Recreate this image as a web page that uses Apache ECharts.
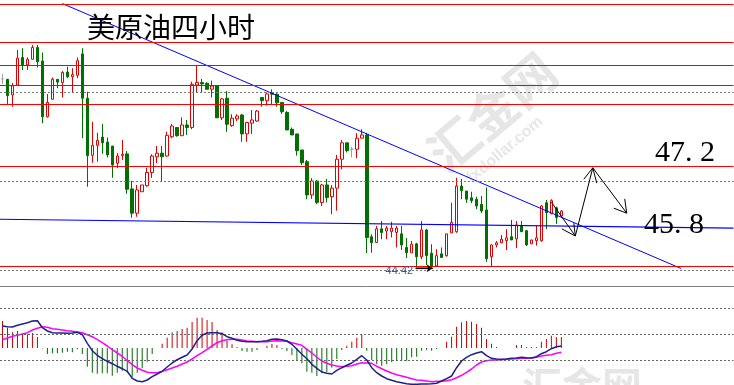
<!DOCTYPE html>
<html>
<head>
<meta charset="utf-8">
<script src="https://cdn.jsdelivr.net/npm/echarts@6/dist/echarts.min.js"></script>
<style>html,body{margin:0;padding:0;background:#fff;}#c{width:734px;height:385px;}</style>
</head>
<body>
<div id="c"></div>
<script>
// ---- candle data (4-hour bars) ----
const openPrices = [49.66,49.65,49.21,49.49,50.26,50.05,50.21,50.54,50.16,48.60,49.09,49.65,49.56,49.85,49.72,49.76,50.36,49.12,47.52,47.80,48.03,47.89,47.78,47.30,47.51,47.56,46.58,45.90,46.50,46.67,47.04,47.48,47.58,47.50,48.04,48.30,48.07,48.37,48.30,49.49,49.56,49.54,49.37,49.47,48.57,49.12,48.35,48.54,48.65,48.12,48.42,48.48,49.14,49.05,49.27,49.23,49.00,48.72,48.25,48.12,47.67,47.34,46.41,46.80,46.20,46.69,46.36,46.60,47.41,47.87,47.69,47.69,48.00,48.09,45.24,45.08,45.46,45.40,45.38,45.36,45.32,44.94,44.79,45.04,44.68,45.43,44.78,44.42,44.76,44.71,45.35,45.38,46.66,46.52,46.33,46.29,46.15,45.99,44.68,45.01,45.07,45.13,45.24,45.18,45.55,45.41,45.04,45.13,45.13,46.19,45.88,46.05,45.82];
const closePrices = [49.66,49.19,49.47,50.24,50.05,50.21,50.54,50.14,48.60,49.00,49.65,49.57,49.84,49.72,49.78,50.17,49.12,47.51,47.80,47.94,47.87,47.53,47.25,47.50,47.55,46.57,45.90,46.55,46.69,47.04,47.50,47.58,47.48,48.08,48.34,48.07,48.37,48.30,49.51,49.56,49.52,49.37,49.46,48.57,49.10,48.39,48.56,48.62,48.12,48.44,48.51,48.76,49.05,49.24,49.23,48.99,48.74,48.23,48.09,47.65,47.31,46.41,46.80,46.20,46.69,46.34,46.60,47.41,47.87,47.65,47.69,48.00,48.09,45.22,45.07,45.46,45.36,45.48,45.48,45.48,45.01,44.79,45.03,44.68,45.43,44.71,44.42,44.71,44.66,45.32,45.64,46.66,46.53,46.29,46.25,46.10,45.96,44.62,45.01,45.07,45.17,45.21,45.15,45.57,45.38,45.01,45.15,45.21,46.10,45.91,46.25,45.78,45.96];
const lowPrices = [49.52,48.96,48.88,49.49,49.91,49.91,50.21,49.98,48.42,48.58,49.09,49.40,49.14,49.68,49.28,49.68,48.00,46.64,47.31,47.34,47.56,47.46,46.89,47.16,47.39,46.44,45.77,45.80,46.50,46.64,46.89,47.30,46.80,47.48,48.00,48.04,48.07,48.09,48.25,49.28,49.28,49.37,49.14,48.57,48.51,48.18,48.32,48.48,47.90,47.90,48.12,48.46,48.88,48.91,48.95,48.88,48.68,48.23,48.09,47.51,47.25,46.29,46.30,46.15,46.10,46.20,45.87,45.97,47.13,47.60,47.46,47.44,48.00,44.78,44.79,45.08,45.17,45.17,45.22,44.94,44.87,44.64,44.79,44.42,44.61,44.45,44.42,44.42,44.66,44.68,45.35,45.35,46.29,46.19,46.18,46.01,45.90,44.54,44.42,44.94,45.06,44.87,45.15,44.92,45.38,44.98,45.04,44.99,45.10,45.45,45.88,45.60,45.80];
const highPrices = [49.80,49.66,49.55,50.47,50.52,50.26,50.61,50.61,50.40,49.24,49.70,49.65,49.88,50.00,49.96,50.26,50.52,49.30,48.46,48.15,48.40,48.02,47.78,47.58,47.95,47.64,46.80,46.69,46.69,47.17,47.55,47.78,47.78,48.18,48.40,48.30,48.58,48.51,49.58,50.02,49.66,49.56,49.61,49.47,49.13,49.32,48.67,48.67,48.68,48.46,48.79,48.79,49.14,49.28,49.37,49.26,49.00,48.76,48.30,48.12,47.67,47.39,46.88,46.83,46.72,46.86,46.69,47.53,47.95,47.87,47.76,48.14,48.25,48.15,45.31,45.54,45.68,45.54,45.66,45.54,45.54,45.20,45.12,45.07,45.68,45.46,45.03,44.89,44.94,45.32,46.19,46.89,46.86,46.52,46.50,46.36,46.38,46.62,45.03,45.12,45.29,45.45,45.71,45.68,45.68,45.41,45.15,45.54,46.13,46.27,46.29,46.08,45.99];

// ---- MACD ----
const macdHist = [0.27,0.203,0.157,0.17,0.147,0.137,0.15,0.11,-0.005,-0.06,-0.053,-0.053,-0.047,-0.037,-0.043,-0.013,-0.06,-0.187,-0.247,-0.257,-0.253,-0.253,-0.277,-0.247,-0.227,-0.247,-0.287,-0.247,-0.203,-0.137,-0.06,0,0.043,0.103,0.157,0.17,0.19,0.203,0.26,0.303,0.303,0.28,0.26,0.18,0.157,0.073,0.037,0.01,-0.03,-0.037,-0.037,-0.02,0,0.023,0.04,0.03,-0.01,-0.03,-0.07,-0.12,-0.153,-0.237,-0.247,-0.28,-0.247,-0.24,-0.197,-0.11,-0.02,0.023,0.063,0.103,0.137,-0.027,-0.12,-0.163,-0.177,-0.163,-0.143,-0.127,-0.127,-0.127,-0.093,-0.087,-0.027,-0.02,-0.027,-0.01,0,0.063,0.113,0.213,0.257,0.27,0.263,0.24,0.203,0.09,0.043,0.01,0,0,0,0.03,0.03,0.01,0.01,0.01,0.063,0.09,0.123,0.11,0.11];
const macdDif = [0.220,0.213,0.210,0.227,0.240,0.253,0.270,0.273,0.203,0.170,0.153,0.150,0.150,0.147,0.150,0.157,0.133,0.047,-0.027,-0.073,-0.107,-0.133,-0.157,-0.183,-0.207,-0.233,-0.303,-0.330,-0.337,-0.320,-0.287,-0.260,-0.233,-0.190,-0.150,-0.117,-0.093,-0.070,-0.010,0.073,0.127,0.150,0.153,0.153,0.143,0.113,0.097,0.077,0.067,0.063,0.063,0.063,0.067,0.073,0.087,0.090,0.083,0.070,0.037,-0.013,-0.063,-0.107,-0.163,-0.203,-0.240,-0.253,-0.260,-0.223,-0.197,-0.173,-0.150,-0.113,-0.077,-0.120,-0.197,-0.247,-0.280,-0.307,-0.323,-0.337,-0.347,-0.357,-0.363,-0.363,-0.360,-0.360,-0.357,-0.353,-0.330,-0.307,-0.280,-0.197,-0.130,-0.093,-0.067,-0.050,-0.037,-0.077,-0.103,-0.110,-0.113,-0.110,-0.103,-0.100,-0.093,-0.097,-0.100,-0.087,-0.057,-0.037,-0.007,0.013,0.020];
const macdDea = [0.083,0.100,0.117,0.127,0.140,0.153,0.180,0.197,0.213,0.207,0.193,0.187,0.180,0.173,0.167,0.160,0.153,0.133,0.113,0.083,0.053,0.020,-0.017,-0.050,-0.083,-0.127,-0.167,-0.200,-0.223,-0.243,-0.247,-0.247,-0.233,-0.217,-0.200,-0.183,-0.160,-0.140,-0.110,-0.077,-0.047,-0.013,0.020,0.053,0.073,0.083,0.087,0.087,0.080,0.070,0.067,0.063,0.063,0.063,0.070,0.073,0.070,0.067,0.053,0.040,0.027,-0.013,-0.050,-0.093,-0.130,-0.153,-0.170,-0.180,-0.187,-0.183,-0.177,-0.160,-0.147,-0.150,-0.153,-0.183,-0.207,-0.230,-0.250,-0.267,-0.280,-0.293,-0.307,-0.320,-0.323,-0.330,-0.337,-0.333,-0.333,-0.327,-0.317,-0.297,-0.273,-0.243,-0.210,-0.170,-0.140,-0.127,-0.120,-0.120,-0.117,-0.113,-0.110,-0.107,-0.103,-0.103,-0.100,-0.093,-0.080,-0.073,-0.067,-0.053,-0.043];
const macdLevels = [0.40, 0.14, -0.12];

// ---- drawn levels / annotations (price units, bar index units) ----
const redLevels = [51.76, 50.69, 50.05, 49.49, 48.96, 47.22, 44.42];
const dottedLevels = [49.29, 46.80, 44.31];
const blueLevel = [[-0.5, 45.73], [146.5, 45.48]];
const trendLine = [[12, 51.77], [136, 44.35]];
const forecastPath = [[110, 46.21], [114.8, 45.26], [118.3, 47.17], [125.1, 45.90]];
const arrowHeads = [
  [[112.1, 45.46], [114.8, 45.26]], [[114.5, 45.62], [114.8, 45.26]],
  [[116.5, 46.85], [118.3, 47.17]], [[119.1, 46.74], [118.3, 47.17]],
  [[122.5, 46.04], [125.1, 45.90]], [[124.7, 46.30], [125.1, 45.90]]
];
const lowMark = { label: '44.42', from: [82.8, 44.36], to: [86.2, 44.36] };
const titleText = '美原油四小时';
const targetLabels = ['47. 2', '45. 8'];
const watermarkText = ['汇金网', 'fxdollar.com'];

const SLOTS = 147;
const categories = [];
for (let i = 0; i < SLOTS; i++) categories.push('K' + (i + 1));

const candleData = openPrices.map((o, i) => {
  const item = { value: [o, closePrices[i], lowPrices[i], highPrices[i]] };
  if (o === closePrices[i]) item.itemStyle = { color: '#a0a0a0', borderColor: '#a0a0a0', color0: '#a0a0a0', borderColor0: '#a0a0a0' };
  return item;
});

const chart = echarts.init(document.getElementById('c'), null, { renderer: 'canvas' });

const lineStyleBase = { symbol: 'none', silent: true, animation: false };
const series = [
  {
    type: 'candlestick', xAxisIndex: 0, yAxisIndex: 0, data: candleData, barWidth: 3, z: 3,
    itemStyle: { color: '#ffffff', color0: '#007000', borderColor: '#e00000', borderColor0: '#007000', borderWidth: 1 },
    markLine: {
      symbol: 'none', silent: true, animation: false, label: { show: false },
      data: redLevels.map(v => ({ yAxis: v, lineStyle: { color: '#ff0000', width: 1.2, type: 'solid' } }))
        .concat(dottedLevels.map(v => ({ yAxis: v, lineStyle: { color: '#777777', width: 1, type: [2, 2] } })))
    }
  },
  Object.assign({ type: 'line', xAxisIndex: 1, yAxisIndex: 0, data: blueLevel, lineStyle: { color: '#0000ff', width: 1.2 }, z: 4 }, lineStyleBase),
  Object.assign({ type: 'line', xAxisIndex: 1, yAxisIndex: 0, data: trendLine, lineStyle: { color: '#0000ff', width: 1 }, z: 4 }, lineStyleBase),
  Object.assign({ type: 'line', xAxisIndex: 1, yAxisIndex: 0, data: forecastPath, lineStyle: { color: '#000000', width: 1 }, z: 5 }, lineStyleBase)
];
arrowHeads.forEach(seg => {
  series.push(Object.assign({ type: 'line', xAxisIndex: 1, yAxisIndex: 0, data: seg, lineStyle: { color: '#000000', width: 1 }, z: 5 }, lineStyleBase));
});
series.push({
  type: 'line', xAxisIndex: 1, yAxisIndex: 0, data: [lowMark.from, lowMark.to], silent: true, animation: false,
  symbol: 'none', lineStyle: { color: '#000000', width: 1.2 }, z: 5,
  markLine: {
    symbol: ['none', 'arrow'], symbolSize: 6, silent: true, animation: false,
    label: { show: false }, lineStyle: { color: '#000', width: 1.2, type: 'solid' },
    data: [[{ coord: lowMark.from }, { coord: lowMark.to }]]
  },
  markPoint: {
    symbol: 'rect', symbolSize: 1, silent: true, animation: false, itemStyle: { color: 'transparent' },
    data: [{ coord: lowMark.from, label: { show: true, formatter: lowMark.label, position: 'left', distance: 2, color: '#33589a', fontSize: 11, fontFamily: 'Liberation Sans', offset: [0, 3] } }]
  }
});
// MACD
series.push({
  type: 'bar', xAxisIndex: 2, yAxisIndex: 1, data: macdHist, barWidth: 1, silent: true, animation: false,
  itemStyle: { color: p => (p.value >= 0 ? '#d00000' : '#006a00') },
  markLine: {
    symbol: 'none', silent: true, animation: false, label: { show: false },
    lineStyle: { color: '#666666', width: 1, type: [2, 2] },
    data: macdLevels.map(v => ({ yAxis: v }))
  }
});
series.push({ type: 'line', xAxisIndex: 2, yAxisIndex: 1, data: macdDea, symbol: 'none', silent: true, animation: false, lineStyle: { color: '#ff00ff', width: 1.5 }, z: 4 });
series.push({ type: 'line', xAxisIndex: 2, yAxisIndex: 1, data: macdDif, symbol: 'none', silent: true, animation: false, lineStyle: { color: '#20208a', width: 1.5 }, z: 5 });

const option = {
  animation: false,
  backgroundColor: '#ffffff',
  grid: [
    { left: -1.5, right: 0.5, top: 0, height: 286, containLabel: false },
    { left: -1.5, right: 0.5, top: 287, height: 98, containLabel: false }
  ],
  xAxis: [
    { type: 'category', gridIndex: 0, data: categories, boundaryGap: true,
      axisLine: { show: true, lineStyle: { color: '#808080', width: 1 } }, axisTick: { show: false }, axisLabel: { show: false }, splitLine: { show: false } },
    { type: 'value', gridIndex: 0, min: -0.5, max: SLOTS - 0.5, show: false },
    { type: 'category', gridIndex: 1, data: categories, boundaryGap: true, show: false }
  ],
  yAxis: [
    { type: 'value', gridIndex: 0, min: 43.86, max: 51.87, show: false, splitLine: { show: false } },
    { type: 'value', gridIndex: 1, min: -0.37, max: 0.61, show: false, splitLine: { show: false } }
  ],
  graphic: [
    { type: 'text', x: 492, y: 112, rotation: 0.7, z: -10, silent: true,
      style: { text: watermarkText[0], fontSize: 50, fontWeight: 'bold', fontFamily: 'Noto Sans CJK SC', fill: 'rgba(200,200,200,0.45)', align: 'center', verticalAlign: 'middle' } },
    { type: 'text', x: 505, y: 150, rotation: 0.7, z: -10, silent: true,
      style: { text: watermarkText[1], fontSize: 16, fontWeight: 'bold', fontFamily: 'Liberation Sans', fill: 'rgba(200,200,200,0.45)', align: 'center', verticalAlign: 'middle' } },
    { type: 'text', left: 522, top: 366, z: -10, silent: true,
      style: { text: watermarkText[0], fontSize: 40, fontWeight: 'bold', fontFamily: 'Noto Sans CJK SC', fill: 'rgba(200,200,200,0.45)' } },
    { type: 'text', left: 87, top: 13, z: 10, silent: true,
      style: { text: titleText, fontSize: 28, fontFamily: 'Noto Sans CJK SC', fill: '#000000' } },
    { type: 'text', left: 655, top: 138, z: 10, silent: true,
      style: { text: targetLabels[0], fontSize: 30, fontFamily: 'Liberation Serif', fill: '#000000' } },
    { type: 'text', left: 644, top: 210, z: 10, silent: true,
      style: { text: targetLabels[1], fontSize: 30, fontFamily: 'Liberation Serif', fill: '#000000' } }
  ],
  series: series
};
chart.setOption(option);
</script>
</body>
</html>
